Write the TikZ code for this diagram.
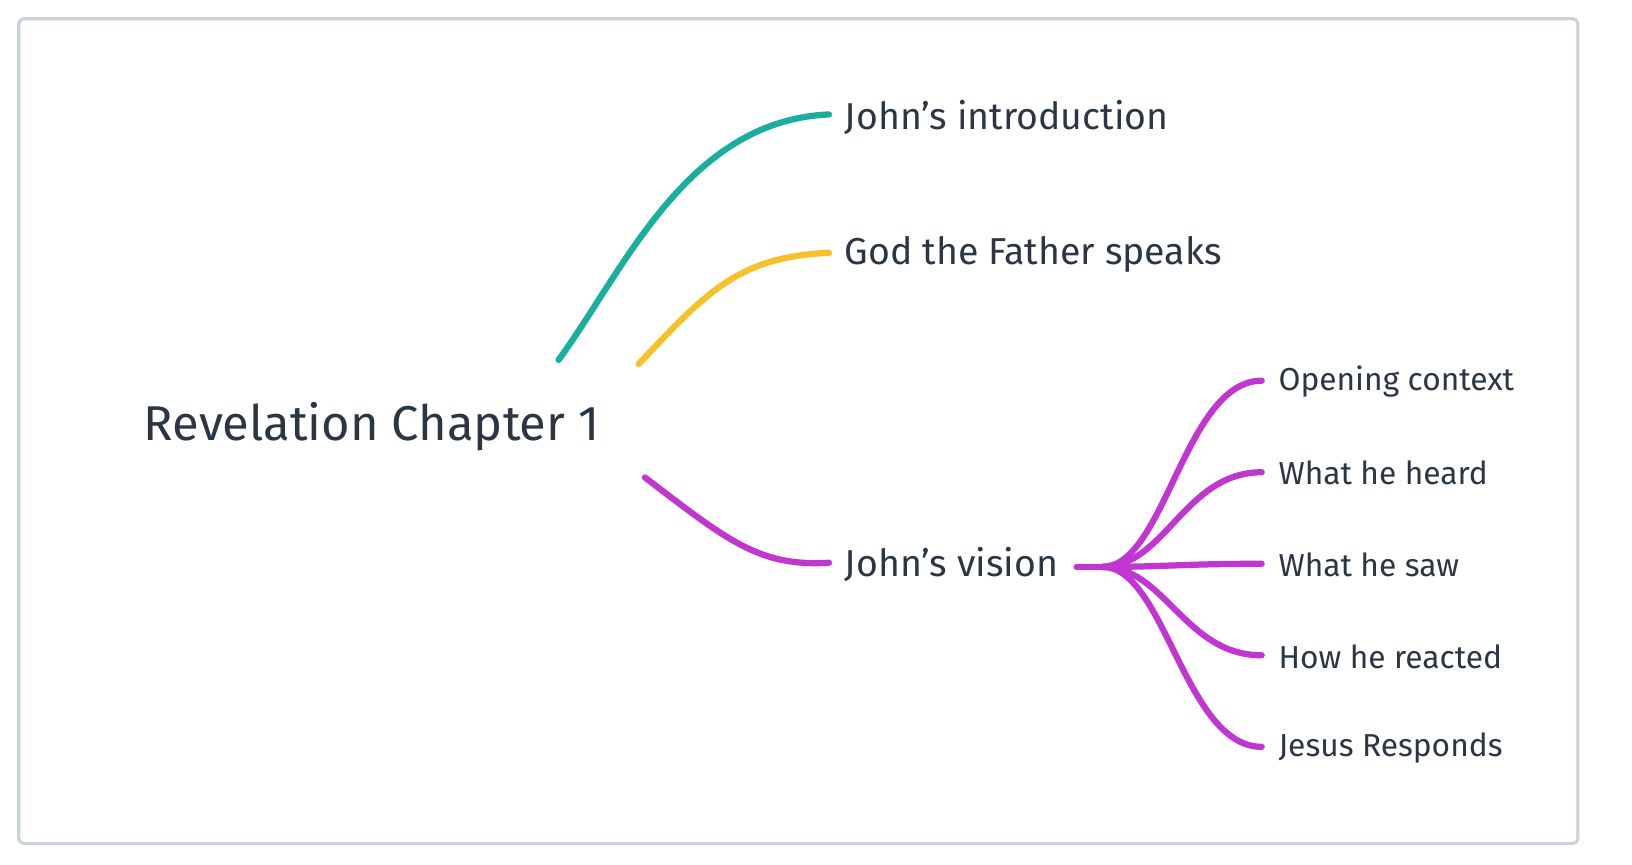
\documentclass[tikz,border=0pt]{standalone}
\usepackage{fontspec}
\setmainfont{Fira Sans}
\definecolor{txt}{HTML}{2B3645}
\definecolor{frame}{HTML}{C9D1DC}
\definecolor{teal}{HTML}{1AAE9F}
\definecolor{gold}{HTML}{F5C22A}
\definecolor{plum}{HTML}{C136D1}
\tikzset{
  topic/.style={anchor=west, text=txt, inner sep=0pt, font=\fontsize{36}{40}\selectfont},
  sub/.style={anchor=west, text=txt, inner sep=0pt, font=\fontsize{30.5}{34}\selectfont},
  branch/.style={line width=6pt, line cap=round},
}
\begin{document}
\begin{tikzpicture}[x=1pt,y=-1pt]

            \useasboundingbox (0,0) rectangle (1569,831);
            \draw[color=frame, line width=3pt, rounded corners=5pt] (18,18) rectangle (1517,811);

            \node[topic, font=\fontsize{47}{52}\selectfont] (root) at (138,410) {Revelation Chapter 1};

            \node[topic] (intro) at (812,113) {John’s introduction};
            \node[topic] (father) at (812,245) {God the Father speaks};
            \node[topic] (vision) at (812,543) {John’s vision};

            \coordinate (r1) at (537,346);
            \coordinate (r2) at (614,350);
            \coordinate (r3) at (620,459);

            \draw[branch, color=teal] (r1) .. controls (600,260) and (660,116) .. ([xshift=-15pt,yshift=3pt]intro.west);
            \draw[branch, color=gold] (r2) .. controls (680,280) and (710,247) .. ([xshift=-15pt,yshift=2pt]father.west);
            \draw[branch, color=plum] (r3) .. controls (700,520) and (730,545) .. ([xshift=-15pt,yshift=2pt]vision.west);

            \node[sub] (open) at (1229,367) {Opening context};
            \node[sub] (heard) at (1229,455) {What he heard};
            \node[sub] (saw) at (1229,543) {What he saw};
            \node[sub] (react) at (1229,631) {How he reacted};
            \node[sub] (resp) at (1229,719) {Jesus Responds};

            \coordinate (v0) at (1035,545);
            \coordinate (v1) at (1060,545);
            \draw[branch, color=plum] (v0) -- (v1);

            \foreach \n in {open,heard,saw,react,resp}
              \draw[branch, color=plum] (v1) .. controls (1120,545) and ([xshift=-90pt,yshift=1pt]\n.west) .. ([xshift=-16pt,yshift=1pt]\n.west);

\end{tikzpicture}
\end{document}
